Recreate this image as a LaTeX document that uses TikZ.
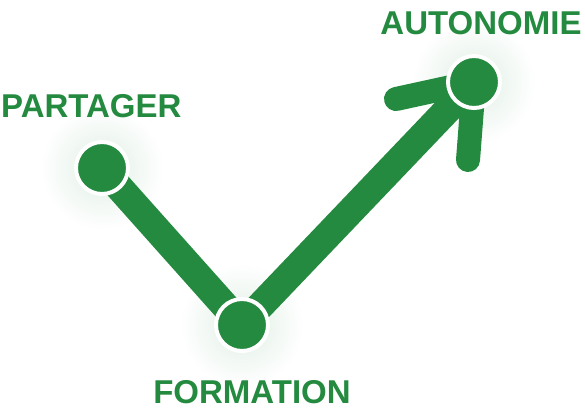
\documentclass[tikz,border=0pt]{standalone}
\usepackage{fontspec}
\setmainfont{Liberation Sans}
\definecolor{leaf}{HTML}{238A3F}
\begin{document}
\begin{tikzpicture}[x=1pt,y=-1pt,
  glow/.style={inner color=leaf!14, outer color=white},
  dot/.style={circle, fill=leaf, draw=white, line width=4pt, minimum size=52pt, inner sep=0pt},
  path/.style={draw=leaf, line width=28pt},
  arm/.style={draw=leaf, line width=24pt, line cap=round},
  lbl/.style={text=leaf, font=\fontsize{33}{33}\selectfont\bfseries, inner sep=0pt}]
\useasboundingbox (0,0) rectangle (585,416);
\fill[white] (0,0) rectangle (585,416);
% glows
\shade[glow] (102,168) circle (62);
\shade[glow] (242,325) circle (62);
\shade[glow] (474,82) circle (62);
% dot positions
\coordinate (pc) at (102,168);
\coordinate (fc) at (242,325);
\coordinate (ac) at (474,82);
\coordinate (armL) at (396,99);
\coordinate (armD) at (468,160);
% connectors
\draw[path] (pc) -- (fc) -- (ac);
\draw[arm] (ac) -- (armL);
\draw[arm] (ac) -- (armD);
% dots
\node[dot] (p) at (pc) {};
\node[dot] (f) at (fc) {};
\node[dot] (a) at (ac) {};
% labels
\node[lbl, anchor=base west] (tp) at (1,117) {PARTAGER};
\node[lbl, anchor=base] (tf) at (252,403) {FORMATION};
\node[lbl, anchor=base] (ta) at (481,34) {AUTONOMIE};
\end{tikzpicture}
\end{document}
